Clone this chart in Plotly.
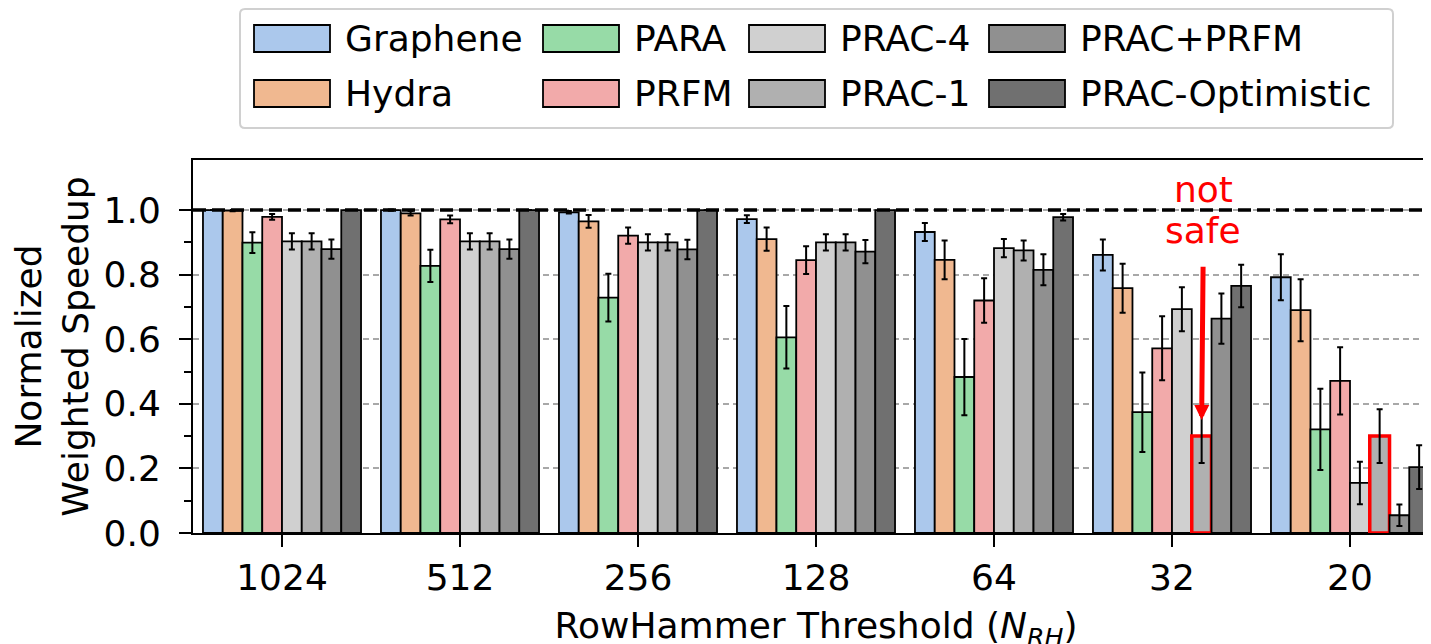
import plotly.graph_objects as go

# ---------------- data ----------------
groups = ["1024", "512", "256", "128", "64", "32", "20"]
series = ["Graphene", "Hydra", "PARA", "PRFM", "PRAC-4", "PRAC-1", "PRAC+PRFM", "PRAC-Optimistic"]

graphene = [1.0, 1.0, 0.993, 0.972, 0.932, 0.861, 0.792]
graphene_err = [0.0, 0.002, 0.004, 0.012, 0.028, 0.048, 0.071]
hydra = [0.998, 0.990, 0.965, 0.910, 0.846, 0.758, 0.690]
hydra_err = [0.002, 0.007, 0.020, 0.036, 0.060, 0.076, 0.096]
para = [0.899, 0.827, 0.729, 0.606, 0.483, 0.374, 0.321]
para_err = [0.032, 0.050, 0.074, 0.097, 0.118, 0.123, 0.126]
prfm = [0.979, 0.971, 0.921, 0.845, 0.720, 0.572, 0.471]
prfm_err = [0.009, 0.012, 0.025, 0.043, 0.069, 0.099, 0.104]
prac4 = [0.903, 0.903, 0.900, 0.900, 0.882, 0.693, 0.155]
prac4_err = [0.025, 0.025, 0.025, 0.025, 0.028, 0.068, 0.066]
prac1 = [0.903, 0.903, 0.900, 0.900, 0.875, 0.30, 0.30]
prac1_err = [0.025, 0.025, 0.025, 0.025, 0.031, 0.083, 0.083]
prac_prfm = [0.879, 0.879, 0.878, 0.871, 0.815, 0.664, 0.055]
prac_prfm_err = [0.030, 0.030, 0.030, 0.036, 0.048, 0.078, 0.033]
prac_opt = [1.0, 1.0, 1.0, 1.0, 0.978, 0.765, 0.204]
prac_opt_err = [0.0, 0.0, 0.0, 0.0, 0.010, 0.066, 0.068]

not_safe = [False, False, False, False, False, True, True]  # PRAC-1 entries flagged "not safe"

values = [graphene, hydra, para, prfm, prac4, prac1, prac_prfm, prac_opt]
errors = [graphene_err, hydra_err, para_err, prfm_err, prac4_err, prac1_err, prac_prfm_err, prac_opt_err]
colors = ["#abc8ec", "#f0b890", "#97dba7", "#f2aaaa", "#d0d0d0", "#b0b0b0", "#909090", "#707070"]

y_ticks = [0.0, 0.2, 0.4, 0.6, 0.8, 1.0]
y_minor = [0.1, 0.3, 0.5, 0.7, 0.9]
BASELINE = 1.0

FONT = "DejaVu Sans"
FS = 36

# ---------------- layout geometry (pixels) ----------------
OFF = 8  # page body margin in the browser
W, H = 1431, 644
L, T = 193 - OFF, 160 - OFF
PLOT_BOTTOM = 533 - OFF
R, B = 0, H - PLOT_BOTTOM
PW, PH = W - L - R, H - T - B
BARGAP = 0.112
n = len(series)
bar_w = (1 - BARGAP) / n


def px(x):  # reference-image pixel -> paper x
    return (x - OFF - L) / PW


def py(y):  # reference-image pixel -> paper y
    return (PLOT_BOTTOM - (y - OFF)) / PH


xs = list(range(len(groups)))
fig = go.Figure()
for i, name in enumerate(series):
    if name == "PRAC-1":
        lc = ["red" if f else "black" for f in not_safe]
        lw = [3.5 if f else 1.8 for f in not_safe]
    else:
        lc = "black"
        lw = 1.8
    fig.add_trace(go.Bar(
        x=xs, y=values[i], name=name,
        marker=dict(color=colors[i], line=dict(color=lc, width=lw)),
        error_y=dict(type="data", array=errors[i], color="black", thickness=2, width=3),
        showlegend=False,
    ))

fig.update_layout(
    width=W, height=H,
    margin=dict(l=L, r=R, t=T, b=B, autoexpand=False),
    barmode="group", bargap=BARGAP, bargroupgap=0,
    plot_bgcolor="white", paper_bgcolor="white",
    font=dict(family=FONT, size=FS, color="black"),
)
fig.update_xaxes(
    range=[-0.5, 6.5],
    tickmode="array", tickvals=xs, ticktext=groups,
    ticks="outside", ticklen=12, tickwidth=2, tickcolor="black",
    showline=True, linecolor="black", linewidth=2, mirror=True,
    showgrid=False, zeroline=False,
    title=dict(text="RowHammer Threshold (<i>N</i><sub><i>RH</i></sub>)", standoff=21,
               font=dict(size=FS)),
    tickfont=dict(size=FS),
)
fig.update_yaxes(
    range=[0, 1.155],
    tickmode="array", tickvals=y_ticks, tickformat=".1f",
    ticks="outside", ticklen=12, tickwidth=2, tickcolor="black",
    minor=dict(tickmode="array", tickvals=y_minor, ticks="outside", ticklen=7,
               tickwidth=2, tickcolor="black", showgrid=False),
    showline=True, linecolor="black", linewidth=2, mirror=False,
    showgrid=True, gridcolor="#a8a8a8", gridwidth=1.5, griddash="6px,4px",
    zeroline=False,
    title=dict(text="Normalized<br>Weighted Speedup", standoff=10, font=dict(size=FS)),
    tickfont=dict(size=FS),
    ticklabelstandoff=11,
)

# baseline dashed line
fig.add_shape(type="line", xref="paper", yref="y", x0=0, x1=1, y0=BASELINE, y1=BASELINE,
              line=dict(color="black", width=3.5, dash="13px,6px"), layer="above")

# "not safe" annotation with arrow pointing to flagged PRAC-1 bar of group 32
k = series.index("PRAC-1")
g = groups.index("32")
bar_x = g + (k - (n - 1) / 2) * bar_w
fig.add_annotation(x=bar_x + 0.01, y=1.063, xref="x", yref="y", text="not",
                   showarrow=False, font=dict(color="red", size=FS, family=FONT),
                   xanchor="center", yanchor="middle")
fig.add_annotation(x=bar_x, y=0.35, xref="x", yref="y",
                   ax=bar_x + 0.01, ay=0.936, axref="x", ayref="y",
                   text="safe", font=dict(color="red", size=FS, family=FONT),
                   showarrow=True, arrowhead=2, arrowsize=0.6, arrowwidth=5,
                   arrowcolor="red", startstandoff=14)

# ---------------- legend (drawn manually, 2 rows x 4 columns) ----------------
bx0, bx1, by0, by1, rr = 240, 1393, 9, 128, 5
path = (f"M {px(bx0 + rr)},{py(by0)} L {px(bx1 - rr)},{py(by0)} "
        f"Q {px(bx1)},{py(by0)} {px(bx1)},{py(by0 + rr)} L {px(bx1)},{py(by1 - rr)} "
        f"Q {px(bx1)},{py(by1)} {px(bx1 - rr)},{py(by1)} L {px(bx0 + rr)},{py(by1)} "
        f"Q {px(bx0)},{py(by1)} {px(bx0)},{py(by1 - rr)} L {px(bx0)},{py(by0 + rr)} "
        f"Q {px(bx0)},{py(by0)} {px(bx0 + rr)},{py(by0)} Z")
fig.add_shape(type="path", xref="paper", yref="paper", path=path,
              line=dict(color="#d0d0d0", width=2), fillcolor="white", layer="above")

col_x = [254, 543, 749, 989]
row_y = [38.5, 93.5]
hw, hh = 76, 27
for i, name in enumerate(series):
    c, r = i // 2, i % 2
    x0 = col_x[c]
    yc = row_y[r]
    fig.add_shape(type="rect", xref="paper", yref="paper",
                  x0=px(x0), x1=px(x0 + hw), y0=py(yc + hh / 2), y1=py(yc - hh / 2),
                  fillcolor=colors[i], line=dict(color="black", width=1.8), layer="above")
    fig.add_annotation(x=px(x0 + hw + 13), y=py(yc), xref="paper", yref="paper",
                       text=name, showarrow=False, xanchor="left", yanchor="middle",
                       font=dict(size=FS, family=FONT, color="black"))

fig.write_html("out.html")
